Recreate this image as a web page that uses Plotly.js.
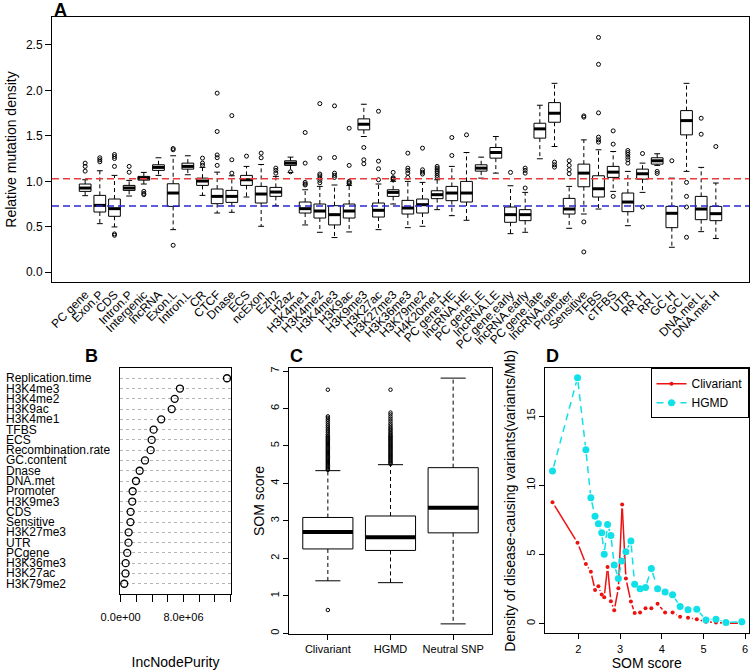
<!DOCTYPE html>
<html><head><meta charset="utf-8">
<script src="https://cdn.plot.ly/plotly-3.0.1.min.js"></script>
<style>html,body{margin:0;padding:0;background:#fff}#chart{width:750px;height:671px}</style>
</head><body><div id="chart"></div>
<script>
// ---------- Panel A: relative mutation density ----------
const regionLabels = ['PC gene','Exon.P','CDS','Intron.P','Intergenic','lncRNA','Exon.L','Intron.L','CR','CTCF','Dnase','ECS','ncExon','Ezh2','H2az','H3K4me1','H3K4me2','H3K4me3','H3K9ac','H3K9me3','H3K27ac','H3K27me3','H3K36me3','H3K79me2','H4K20me1','PC gene.HE','lncRNA.HE','PC gene.LE','lncRNA.LE','PC gene.early','lncRNA.early','PC gene.late','lncRNA.late','Promoter','Sensitive','TFBS','cTFBS','UTR','RR H','RR L','GC H','GC L','DNA.met L','DNA.met H'];
const regionQ1 =     [0.889,0.662,0.615,0.900,1.013,1.120,0.724,1.134,0.955,0.754,0.768,0.955,0.761,0.834,1.175,0.651,0.596,0.520,0.596,1.566,0.607,0.834,0.640,0.651,0.809,0.787,0.772,1.112,1.255,0.549,0.567,1.475,1.650,0.640,0.940,0.827,1.043,0.666,1.024,1.189,0.490,1.511,0.578,0.567];
const regionMedian = [0.926,0.735,0.699,0.926,1.035,1.153,0.871,1.164,1.003,0.834,0.834,1.017,0.860,0.882,1.200,0.699,0.673,0.633,0.673,1.628,0.681,0.878,0.706,0.743,0.853,0.871,0.871,1.145,1.317,0.633,0.633,1.577,1.749,0.695,1.090,0.918,1.101,0.772,1.083,1.226,0.648,1.668,0.695,0.644];
const regionQ3 =     [0.970,0.845,0.805,0.955,1.054,1.182,0.973,1.200,1.035,0.915,0.900,1.065,0.944,0.933,1.226,0.772,0.750,0.732,0.750,1.687,0.761,0.907,0.790,0.805,0.896,0.944,0.999,1.182,1.372,0.717,0.688,1.639,1.866,0.812,1.189,1.061,1.164,0.871,1.134,1.259,0.724,1.778,0.834,0.724];
const regionLow =    [0.842,0.534,0.498,0.838,0.970,1.065,0.468,1.072,0.845,0.651,0.659,0.827,0.505,0.732,1.098,0.520,0.439,0.381,0.443,1.493,0.468,0.750,0.490,0.505,0.688,0.622,0.571,1.035,1.090,0.424,0.439,1.248,1.383,0.483,0.640,0.695,0.889,0.512,0.878,1.175,0.274,1.109,0.446,0.370];
const regionHigh =   [1.017,1.116,1.065,1.010,1.098,1.259,1.281,1.281,1.153,1.101,1.061,1.164,1.185,1.054,1.266,0.907,0.944,0.959,0.955,1.848,0.970,1.000,0.999,0.988,1.017,1.164,1.317,1.266,1.493,0.951,0.878,1.837,2.078,0.944,1.456,1.347,1.328,1.109,1.200,1.303,1.035,2.078,1.153,0.981];
const regionOutliers = [
  [1.200,1.164,1.112],
  [1.259,1.237,1.215],
  [1.295,1.273,1.251,1.164,0.421,0.406],
  [1.164,1.100],
  [0.889,0.867,0.853],
  [],
  [1.361,1.347,0.296],
  [],
  [1.255,1.200,1.175],
  [1.970,1.548,1.290,1.260,1.175],
  [1.723,1.237,1.090],
  [1.277],
  [1.310,1.259],
  [1.145,1.120,1.090],
  [1.105],
  [1.537,1.200,0.988,0.970,0.960],
  [1.855,1.255,1.080,1.060,1.035,1.010,0.984],
  [1.830,1.262,1.090,1.065,1.043],
  [1.584,1.175,0.999,0.985,0.975],
  [1.372,1.237,1.193],
  [1.771,1.222,1.138,1.017],
  [1.098,1.040,1.030,1.020],
  [1.310,1.145,1.120,1.090,1.043],
  [1.365,1.127,1.101,1.080],
  [1.164,1.145,1.127,1.109,1.090,1.065,1.043],
  [1.482,1.284],
  [1.511],
  [],
  [],
  [1.098],
  [1.145,1.120,1.090,0.926],
  [],
  [1.211,1.182,1.156],
  [1.226,1.175,1.127,1.083],
  [1.720,1.706,0.553,0.223],
  [2.583,2.287,1.753,1.486,1.456,1.431],
  [1.555,1.409,0.834],
  [1.339,1.317,1.295,1.266,1.237,1.200],
  [1.306,0.717],
  [1.109,1.087],
  [1.226],
  [0.988,0.834,0.717,0.384],
  [1.694,1.518],
  [1.383]
];
const refLineRed = 1.028;
const refLineBlue = 0.728;

// ---------- Panel B: variable importance ----------
const featureNames = ['Replication.time','H3K4me3','H3K4me2','H3K9ac','H3K4me1','TFBS','ECS','Recombination.rate','GC.content','Dnase','DNA.met','Promoter','H3K9me3','CDS','Sensitive','H3K27me3','UTR','PCgene','H3K36me3','H3K27ac','H3K79me2'];
const featurePurity = [13.54e6,7.55e6,6.88e6,6.50e6,5.17e6,4.20e6,3.95e6,3.82e6,3.10e6,2.42e6,1.95e6,1.53e6,1.48e6,1.27e6,1.25e6,1.02e6,1.00e6,0.84e6,0.64e6,0.62e6,0.46e6];
const purityTickVals = [0,2e6,4e6,6e6,8e6,10e6,12e6,14e6];
const purityTickText = ['0.0e+00','','','','8.0e+06','','',''];

// ---------- Panel C: SOM score boxplots ----------
const somGroups = ['Clivariant','HGMD','Neutral SNP'];
const somQ1 = [2.25,2.21,2.68];
const somMedian = [2.70,2.56,3.35];
const somQ3 = [3.09,3.13,4.42];
const somLow = [1.40,1.35,0.25];
const somHigh = [4.34,4.50,6.81];
const somOutliers = [
  [4.36,4.39,4.42,4.45,4.48,4.51,4.54,4.57,4.60,4.63,4.66,4.69,4.72,4.75,4.78,4.81,4.84,4.87,4.90,4.93,4.96,4.99,5.02,5.05,5.08,5.11,5.14,5.17,5.20,5.23,5.26,5.30,5.35,5.40,5.45,5.50,5.55,5.60,5.65,5.70,5.75,5.79,6.50,0.62],
  [4.52,4.55,4.58,4.61,4.64,4.67,4.70,4.73,4.76,4.79,4.82,4.85,4.88,4.91,4.94,4.97,5.00,5.03,5.06,5.09,5.12,5.15,5.18,5.21,5.24,5.27,5.30,5.34,5.38,5.42,5.46,5.50,5.55,5.60,5.66,5.72,5.78,5.84,5.89,6.50],
  []
];

// ---------- Panel D: density vs SOM score ----------
const hgmdSom =     [1.38,1.98,2.18,2.30,2.40,2.48,2.56,2.62,2.70,2.78,2.86,2.96,3.04,3.14,3.26,3.35,3.48,3.61,3.75,3.90,4.08,4.26,4.44,4.63,4.84,5.06,5.30,5.54,5.92];
const hgmdDensity = [11.03,17.78,12.57,9.09,7.76,7.21,6.56,5.00,7.16,6.37,4.23,3.25,4.52,5.19,5.96,2.84,2.52,2.60,3.97,2.52,2.28,2.07,1.23,0.99,1.03,0.26,0.31,0.07,0.12];
const cliSom =      [1.38,1.98,2.18,2.30,2.40,2.48,2.56,2.62,2.70,2.78,2.86,2.96,3.05,3.14,3.26,3.35,3.48,3.61,3.75,3.90,4.08,4.26,4.44,4.63,4.84,5.06,5.30,5.54,5.92];
const cliDensity =  [8.77,5.84,4.30,3.75,2.43,2.69,2.09,1.90,4.09,1.61,0.96,2.55,8.61,3.25,1.59,0.75,0.79,1.11,1.11,1.42,0.79,0.79,0.48,0.41,0.31,0.12,0.07,0.02,0.02];

// ---------- helpers ----------
const FONT = 'Liberation Sans, Arial, Helvetica, sans-serif';
const W = 750, H = 671;
// pixel geometry of the plotting regions
const boxA = {l: 52, r: 749, t: 17, b: 282};
const boxB = {l: 120, r: 231, t: 368, b: 594};
const boxC = {l: 289, r: 492, t: 368, b: 634};
const boxD = {l: 545, r: 748.5, t: 368.3, b: 633.3};
const rangeDx = [1.2, 6.08], rangeDy = [-0.71, 18.46];

function vsegs(xs, a, b) {
  const X = [], Y = [];
  xs.forEach((p, i) => { X.push(p, p, null); Y.push(a[i], b[i], null); });
  return {x: X, y: Y};
}
function hsegs(xs, v, half) {
  const X = [], Y = [];
  xs.forEach((p, i) => { X.push(p - half, p + half, null); Y.push(v[i], v[i], null); });
  return {x: X, y: Y};
}
function flatOut(xs, outs) {
  const X = [], Y = [];
  xs.forEach((p, i) => outs[i].forEach(v => { X.push(p); Y.push(v); }));
  return {x: X, y: Y};
}
function isolated(xs, ys) { // points separated by gaps so no connecting line is drawn
  const X = [], Y = [];
  xs.forEach((x, i) => { X.push(x, null); Y.push(ys[i], null); });
  return {x: X, y: Y};
}
// R type="b": line pieces between points, leaving a gap around each point
function typeB(xs, ys, gap) {
  const sx = (boxD.r - boxD.l) / (rangeDx[1] - rangeDx[0]);
  const sy = (boxD.b - boxD.t) / (rangeDy[1] - rangeDy[0]);
  const X = [], Y = [];
  for (let i = 0; i < xs.length - 1; i++) {
    const dx = xs[i + 1] - xs[i], dy = ys[i + 1] - ys[i];
    const L = Math.hypot(dx * sx, dy * sy);
    if (L <= 2 * gap) continue;
    const t = gap / L;
    X.push(xs[i] + dx * t, xs[i] + dx * (1 - t), null);
    Y.push(ys[i] + dy * t, ys[i] + dy * (1 - t), null);
  }
  return {x: X, y: Y};
}
function boxSet(xs, q1, med, q3, lo, hi, outs, xa, ya, medW, outSize) {
  const w1 = vsegs(xs, q3, hi), w2 = vsegs(xs, q1, lo);
  const capsHi = hsegs(xs, hi, 0.2), capsLo = hsegs(xs, lo, 0.2);
  const meds = hsegs(xs, med, 0.4);
  const o = flatOut(xs, outs);
  const common = {xaxis: xa, yaxis: ya, showlegend: false, hoverinfo: 'skip'};
  return [
    Object.assign({type: 'scatter', mode: 'lines', x: w1.x.concat(w2.x), y: w1.y.concat(w2.y),
      line: {color: '#000', width: 1, dash: '4px,3px'}}, common),
    Object.assign({type: 'scatter', mode: 'lines', x: capsHi.x.concat(capsLo.x), y: capsHi.y.concat(capsLo.y),
      line: {color: '#000', width: 1}}, common),
    Object.assign({type: 'box', x: xs, q1: q1, median: med, q3: q3, lowerfence: q1, upperfence: q3,
      width: 0.8, whiskerwidth: 0, fillcolor: '#fff', line: {color: '#000', width: 1}, boxpoints: false}, common),
    Object.assign({type: 'scatter', mode: 'lines', x: meds.x, y: meds.y,
      line: {color: '#000', width: medW}}, common),
    Object.assign({type: 'scatter', mode: 'markers', x: o.x, y: o.y,
      marker: {symbol: 'circle-open', size: outSize, color: '#000', line: {width: 1}}}, common)
  ];
}

const posA = regionLabels.map((_, i) => i + 1);
const posC = somGroups.map((_, i) => i + 1);
const rowsB = featureNames.map((_, i) => featureNames.length - i);

let traces = [];
traces = traces.concat(boxSet(posA, regionQ1, regionMedian, regionQ3, regionLow, regionHigh, regionOutliers, 'x', 'y', 3, 4));
traces.push({type: 'scatter', mode: 'markers', x: featurePurity, y: rowsB, xaxis: 'x2', yaxis: 'y2',
  marker: {symbol: 'circle-open', size: 7, color: '#000', line: {width: 1.3}}, showlegend: false, hoverinfo: 'skip'});
traces = traces.concat(boxSet(posC, somQ1, somMedian, somQ3, somLow, somHigh, somOutliers, 'x3', 'y3', 4, 3.5));

const RED = '#ee1111', CYAN = '#10e0e8';
const cliSeg = typeB(cliSom, cliDensity, 4);
const hgSeg = typeB(hgmdSom, hgmdDensity, 4.5);
const cliPts = isolated(cliSom, cliDensity);
const hgPts = isolated(hgmdSom, hgmdDensity);
traces.push({type: 'scatter', mode: 'lines', x: cliSeg.x, y: cliSeg.y, xaxis: 'x4', yaxis: 'y4',
  line: {color: RED, width: 1.5}, showlegend: false, hoverinfo: 'skip'});
traces.push({type: 'scatter', mode: 'lines', x: hgSeg.x, y: hgSeg.y, xaxis: 'x4', yaxis: 'y4',
  line: {color: CYAN, width: 1.5, dash: '7px,5px'}, showlegend: false, hoverinfo: 'skip'});
traces.push({type: 'scatter', mode: 'lines+markers', name: 'Clivariant', x: cliPts.x, y: cliPts.y, xaxis: 'x4', yaxis: 'y4',
  connectgaps: false, line: {color: RED, width: 1.5}, marker: {color: RED, size: 4}, hoverinfo: 'skip'});
traces.push({type: 'scatter', mode: 'lines+markers', name: 'HGMD', x: hgPts.x, y: hgPts.y, xaxis: 'x4', yaxis: 'y4',
  connectgaps: false, line: {color: CYAN, width: 1.5, dash: '7px,5px'}, marker: {color: CYAN, size: 7}, hoverinfo: 'skip'});

const base = {showline: true, mirror: true, linecolor: '#000', linewidth: 1, zeroline: false, showgrid: false,
  ticks: 'outside', tickcolor: '#000', ticklen: 5, tickfont: {size: 11, color: '#000'}, automargin: false};
const yd = (bx) => [1 - bx.b / H, 1 - bx.t / H];
const xd = (bx) => [bx.l / W, bx.r / W];

const layout = {
  width: W, height: H, margin: {l: 0, r: 0, t: 0, b: 0},
  paper_bgcolor: '#fff', plot_bgcolor: '#fff',
  font: {family: FONT, color: '#000', size: 11},
  xaxis: Object.assign({}, base, {domain: xd(boxA), anchor: 'y', range: [-1.26, 46.26],
    tickvals: posA, ticktext: regionLabels, tickangle: -45, ticks: '', tickfont: {size: 12, color: '#000'}}),
  yaxis: Object.assign({}, base, {domain: yd(boxA), anchor: 'x', range: [-0.108, 2.808],
    tickvals: [0, 0.5, 1, 1.5, 2, 2.5], tickformat: '.1f', ticklen: 6, tickfont: {size: 12, color: '#000'},
    title: {text: 'Relative mutation density', font: {size: 14}, standoff: 6}}),
  xaxis2: Object.assign({}, base, {domain: xd(boxB), anchor: 'y2', range: [-0.08e6, 14.05e6],
    tickvals: purityTickVals, ticktext: purityTickText, ticklen: 7, ticklabelstandoff: 6,
    title: {text: 'IncNodePurity', font: {size: 14}, standoff: 34}}),
  yaxis2: Object.assign({}, base, {domain: yd(boxB), anchor: 'x2', range: [0, 22],
    tickvals: rowsB, showticklabels: false, ticks: '', showgrid: true, gridcolor: '#b5b5b5', griddash: 'dot', gridwidth: 1}),
  xaxis3: Object.assign({}, base, {domain: xd(boxC), anchor: 'y3', range: [0.38, 3.62],
    tickvals: posC, ticktext: somGroups}),
  yaxis3: Object.assign({}, base, {domain: yd(boxC), anchor: 'x3', range: [-0.02, 7.08],
    tickvals: [0,1,2,3,4,5,6,7], tickangle: -90,
    title: {text: 'SOM score', font: {size: 14}, standoff: 0}}),
  xaxis4: Object.assign({}, base, {domain: xd(boxD), anchor: 'y4', range: rangeDx,
    tickvals: [2,3,4,5,6],
    title: {text: 'SOM score', font: {size: 14}, standoff: 8}}),
  yaxis4: Object.assign({}, base, {domain: yd(boxD), anchor: 'x4', range: rangeDy,
    tickvals: [0,5,10,15], tickangle: -90,
    title: {text: 'Density of disease-causing variants(variants/Mb)', font: {size: 14}, standoff: 5}}),
  showlegend: true,
  legend: {x: boxD.r / W, xanchor: 'right', y: 1 - boxD.t / H, yanchor: 'top', bgcolor: '#fff',
    bordercolor: '#000', borderwidth: 1, font: {size: 12}, itemwidth: 30, tracegroupgap: 0},
  shapes: [
    {type: 'line', xref: 'x domain', yref: 'y', x0: 0, x1: 1, y0: refLineRed, y1: refLineRed,
      line: {color: 'rgb(235,60,60)', width: 1.5, dash: '7px,4px'}},
    {type: 'line', xref: 'x domain', yref: 'y', x0: 0, x1: 1, y0: refLineBlue, y1: refLineBlue,
      line: {color: 'rgb(40,40,210)', width: 1.5, dash: '7px,4px'}}
  ],
  annotations: featureNames.map((n, i) => ({text: n, xref: 'paper', yref: 'y2', x: 4 / W, y: rowsB[i],
    xanchor: 'left', yanchor: 'middle', showarrow: false, font: {size: 12, color: '#000'}}))
    .concat([
      {text: '<b>A</b>', x: 52 / W, y: 1 - 9.5 / H},
      {text: '<b>B</b>', x: 91.5 / W, y: 1 - 356 / H},
      {text: '<b>C</b>', x: 296 / W, y: 1 - 355.5 / H},
      {text: '<b>D</b>', x: 552 / W, y: 1 - 356 / H}
    ].map((a, i) => Object.assign({xref: 'paper', yref: 'paper', showarrow: false,
      xanchor: i === 0 ? 'left' : 'center', yanchor: 'middle', font: {size: 18, color: '#000'}}, a)))
};

Plotly.newPlot('chart', traces, layout, {displayModeBar: false, staticPlot: true});
</script>
</body></html>
